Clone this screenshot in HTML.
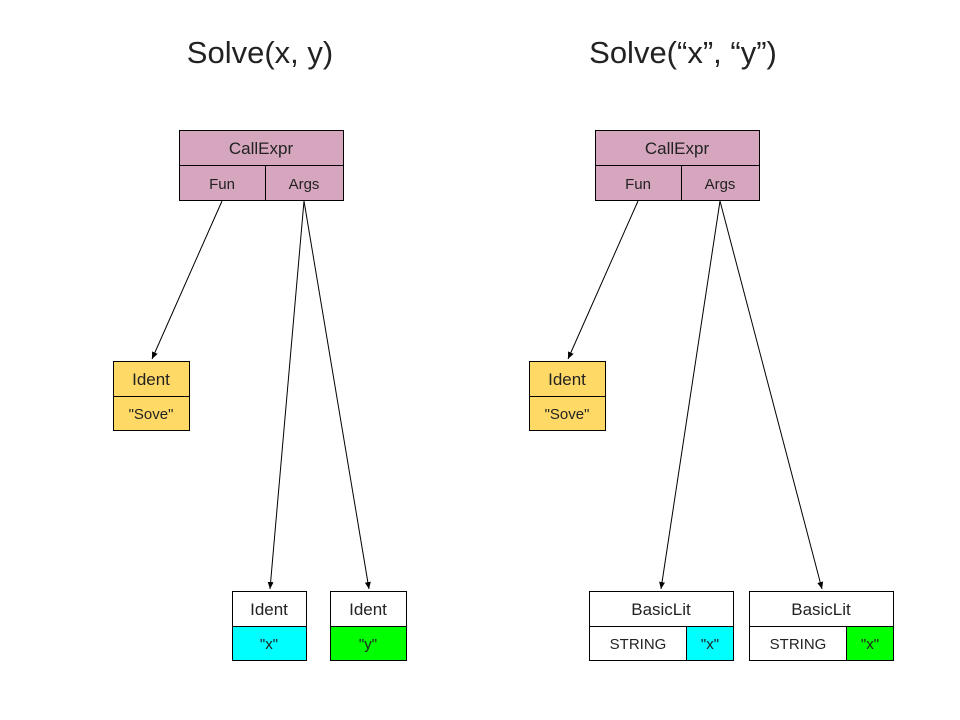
<!DOCTYPE html>
<html><head><meta charset="utf-8"><style>
html,body{margin:0;padding:0;background:#fff;}
svg{display:block;}
text{font-family:"Liberation Sans",Arial,sans-serif;fill:#222;}
</style></head><body>
<svg width="960" height="720" viewBox="0 0 960 720" xmlns="http://www.w3.org/2000/svg">
<defs>
<marker id="a" markerWidth="8" markerHeight="8" refX="7" refY="4" orient="auto" markerUnits="userSpaceOnUse">
<path d="M0,1 L7,4 L0,7 Z" fill="#000"/>
</marker>
</defs>
<text x="260" y="63" font-size="31" text-anchor="middle">Solve(x, y)</text>
<text x="683" y="63" font-size="31" text-anchor="middle">Solve(“x”, “y”)</text>

<g stroke="#000" stroke-width="1">
<rect x="179.5" y="130.5" width="164" height="35" fill="#d5a6bd"/>
<rect x="179.5" y="165.5" width="86" height="35" fill="#d5a6bd"/>
<rect x="265.5" y="165.5" width="78" height="35" fill="#d5a6bd"/>
<rect x="595.5" y="130.5" width="164" height="35" fill="#d5a6bd"/>
<rect x="595.5" y="165.5" width="86" height="35" fill="#d5a6bd"/>
<rect x="681.5" y="165.5" width="78" height="35" fill="#d5a6bd"/>
<rect x="113.5" y="361.5" width="76" height="35" fill="#ffd966"/>
<rect x="113.5" y="396.5" width="76" height="34" fill="#ffd966"/>
<rect x="529.5" y="361.5" width="76" height="35" fill="#ffd966"/>
<rect x="529.5" y="396.5" width="76" height="34" fill="#ffd966"/>
<rect x="232.5" y="591.5" width="74" height="35" fill="#fff"/>
<rect x="232.5" y="626.5" width="74" height="34" fill="#00ffff"/>
<rect x="330.5" y="591.5" width="76" height="35" fill="#fff"/>
<rect x="330.5" y="626.5" width="76" height="34" fill="#00ff00"/>
<rect x="589.5" y="591.5" width="144" height="35" fill="#fff"/>
<rect x="589.5" y="626.5" width="97" height="34" fill="#fff"/>
<rect x="686.5" y="626.5" width="47" height="34" fill="#00ffff"/>
<rect x="749.5" y="591.5" width="144" height="35" fill="#fff"/>
<rect x="749.5" y="626.5" width="97" height="34" fill="#fff"/>
<rect x="846.5" y="626.5" width="47" height="34" fill="#00ff00"/>
<line x1="222" y1="201" x2="152" y2="359" marker-end="url(#a)"/>
<line x1="304" y1="201" x2="270" y2="589" marker-end="url(#a)"/>
<line x1="304" y1="201" x2="369" y2="589" marker-end="url(#a)"/>
<line x1="638" y1="201" x2="568" y2="359" marker-end="url(#a)"/>
<line x1="720" y1="201" x2="661" y2="589" marker-end="url(#a)"/>
<line x1="720" y1="201" x2="822" y2="589" marker-end="url(#a)"/>
</g>

<g font-size="17" text-anchor="middle">
<text x="261" y="154">CallExpr</text>
<text x="677" y="154">CallExpr</text>
<text x="151" y="385">Ident</text>
<text x="567" y="385">Ident</text>
<text x="269" y="615">Ident</text>
<text x="368" y="615">Ident</text>
<text x="661" y="615">BasicLit</text>
<text x="821" y="615">BasicLit</text>
</g>
<g font-size="15" text-anchor="middle">
<text x="222" y="189">Fun</text>
<text x="304" y="189">Args</text>
<text x="638" y="189">Fun</text>
<text x="720" y="189">Args</text>
<text x="151" y="419">"Sove"</text>
<text x="567" y="419">"Sove"</text>
<text x="269" y="649">"x"</text>
<text x="368" y="649">"y"</text>
<text x="638" y="649">STRING</text>
<text x="710" y="649">"x"</text>
<text x="798" y="649">STRING</text>
<text x="870" y="649">"x"</text>
</g>
</svg>
</body></html>
